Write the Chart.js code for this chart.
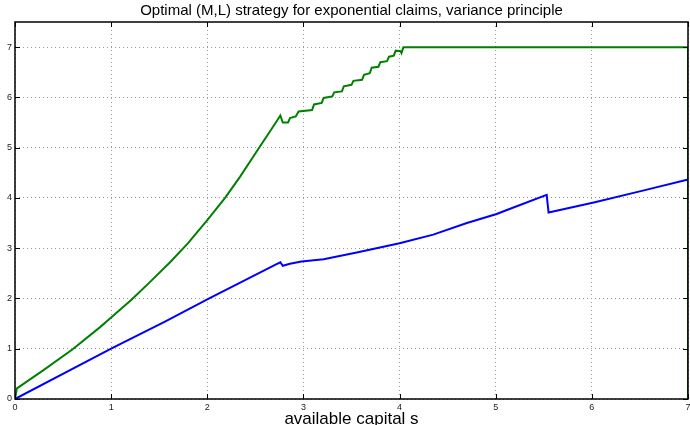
<!DOCTYPE html>
<html lang="en">
<head>
    <meta charset="UTF-8">
    <title>Optimal (M,L) strategy</title>
    <script src="https://cdn.jsdelivr.net/npm/chart.js"></script>
    <style>
        body { margin: 0; background: #fff; }
        #wrap { width: 690px; height: 425px; }
    </style>
</head>
<body>
    <div id="wrap">
        <canvas id="strategyChart" width="690" height="425"></canvas>
    </div>

    <script>
        // values
        const greenX = [0, 0.02, 0.3, 0.6, 0.885, 1.0, 1.214, 1.4, 1.613, 1.8,
                        2.0, 2.185, 2.34, 2.515, 2.72, 2.76, 2.785, 2.84, 2.86, 2.92,
                        2.95, 3.09, 3.11, 3.19, 3.21, 3.30, 3.32, 3.40, 3.42, 3.50,
                        3.52, 3.61, 3.63, 3.69, 3.71, 3.78, 3.80, 3.87, 3.89, 3.94,
                        3.96, 4.01, 4.02, 4.04, 7.0, 7.0];
        const greenY = [0, 0.21, 0.58, 0.99, 1.43, 1.62, 1.98, 2.32, 2.72, 3.10,
                        3.56, 4.0, 4.42, 4.93, 5.52, 5.64, 5.50, 5.50, 5.59, 5.62,
                        5.72, 5.75, 5.86, 5.89, 5.99, 6.02, 6.10, 6.12, 6.22, 6.25,
                        6.33, 6.35, 6.45, 6.48, 6.59, 6.61, 6.70, 6.72, 6.81, 6.83,
                        6.93, 6.92, 6.88, 7.0, 7.0, 0];
        const blueX = [0, 1.0, 1.56, 2.01, 2.705, 2.76, 2.785, 2.86, 2.98, 3.21,
                       3.555, 4.0, 4.35, 4.70, 5.01, 5.13, 5.53, 5.55, 6.02, 6.52,
                       6.99, 7.0, 7.0];
        const blueY = [0, 1.0, 1.54, 1.99, 2.67, 2.72, 2.65, 2.69, 2.735, 2.78,
                       2.915, 3.10, 3.27, 3.50, 3.68, 3.77, 4.06, 3.71, 3.91, 4.14,
                       4.36, 4.36, 0];

        const FONT = "'Liberation Sans', Arial, Helvetica, sans-serif";

        // black box with inward tick marks, matlab style
        const boxPlugin = {
            id: 'box',
            afterDraw(chart) {
                const { ctx, chartArea: a, scales } = chart;
                ctx.save();
                ctx.strokeStyle = '#000';
                ctx.lineWidth = 1.5;
                ctx.strokeRect(a.left, a.top, a.right - a.left, a.bottom - a.top);
                ctx.lineWidth = 1;
                ctx.beginPath();
                scales.x.ticks.forEach(t => {
                    const px = Math.round(scales.x.getPixelForValue(t.value)) + 0.5;
                    ctx.moveTo(px, a.bottom); ctx.lineTo(px, a.bottom - 5);
                    ctx.moveTo(px, a.top); ctx.lineTo(px, a.top + 5);
                });
                scales.y.ticks.forEach(t => {
                    const py = Math.round(scales.y.getPixelForValue(t.value)) + 0.5;
                    ctx.moveTo(a.left, py); ctx.lineTo(a.left + 5, py);
                    ctx.moveTo(a.right, py); ctx.lineTo(a.right - 5, py);
                });
                ctx.stroke();
                ctx.restore();
            }
        };

        const toPoints = (xs, ys) => xs.map((x, i) => ({ x: x, y: ys[i] }));

        new Chart(document.getElementById('strategyChart'), {
            type: 'scatter',
            data: {
                datasets: [
                    {
                        label: 'L',
                        data: toPoints(greenX, greenY),
                        showLine: true,
                        borderColor: '#008000',
                        borderWidth: 2,
                        pointRadius: 0,
                        tension: 0
                    },
                    {
                        label: 'M',
                        data: toPoints(blueX, blueY),
                        showLine: true,
                        borderColor: '#0000ff',
                        borderWidth: 2,
                        pointRadius: 0,
                        tension: 0
                    }
                ]
            },
            options: {
                responsive: false,
                animation: false,
                devicePixelRatio: 1,
                layout: { padding: { left: 0, right: 2, top: 0, bottom: 0 } },
                plugins: {
                    legend: { display: false },
                    tooltip: { enabled: false },
                    title: {
                        display: true,
                        fullSize: false,
                        text: 'Optimal (M,L) strategy for exponential claims, variance principle',
                        color: '#000',
                        font: { family: FONT, size: 15, weight: 'normal', lineHeight: 1.2 },
                        padding: { top: 2, bottom: 2 }
                    }
                },
                scales: {
                    x: {
                        type: 'linear',
                        min: 0,
                        max: 7,
                        afterFit: s => { s.height = 26; s.paddingLeft = 0; s.paddingRight = 0; },
                        ticks: {
                            stepSize: 1,
                            padding: 3,
                            maxRotation: 0,
                            color: '#222',
                            font: { family: FONT, size: 9 }
                        },
                        grid: { color: '#999', drawTicks: false },
                        border: { display: false, dash: [1, 3] },
                        title: {
                            display: true,
                            text: 'available capital s',
                            color: '#000',
                            font: { family: FONT, size: 17, lineHeight: 0.7 },
                            padding: 0
                        }
                    },
                    y: {
                        type: 'linear',
                        min: 0,
                        max: 7.5,
                        afterBuildTicks: s => { s.ticks = s.ticks.filter(t => Number.isInteger(t.value)); },
                        afterFit: s => { s.width = 15; s.paddingTop = 0; s.paddingBottom = 0; },
                        ticks: {
                            stepSize: 1,
                            padding: 3,
                            color: '#222',
                            font: { family: FONT, size: 9 }
                        },
                        grid: { color: '#999', drawTicks: false },
                        border: { display: false, dash: [1, 3] }
                    }
                }
            },
            plugins: [boxPlugin]
        });
    </script>
</body>
</html>
